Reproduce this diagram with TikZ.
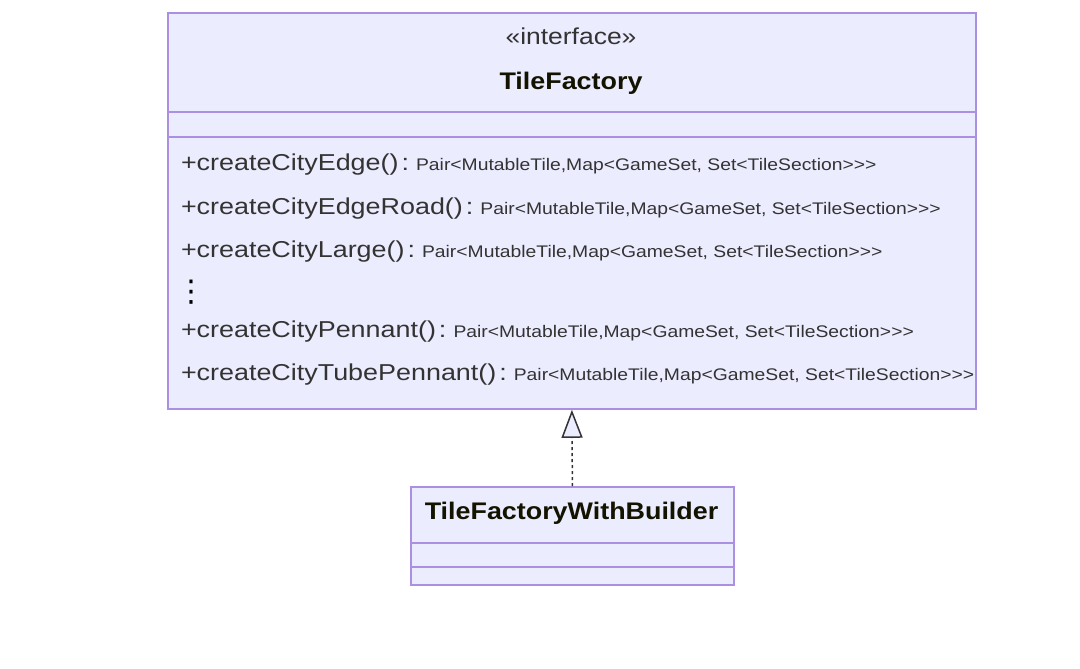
\documentclass[tikz,border=0pt]{standalone}
\usepackage{fontspec}
\setmainfont{Liberation Sans}
\newfontfamily\mfont[FakeStretch=1.17]{Liberation Sans}
\newfontfamily\rfont[FakeStretch=1.15]{Liberation Sans}
\newfontfamily\tfont[FakeStretch=1.12]{Liberation Sans}
\newfontfamily\symfont{DejaVu Sans}
\usetikzlibrary{arrows.meta}
\definecolor{cfill}{HTML}{ECECFF}
\definecolor{clinebase}{HTML}{9370DB}
\colorlet{cline}{clinebase!78!white}
\definecolor{ctext}{HTML}{333333}
\definecolor{ctitle}{HTML}{131300}
\newcommand{\rsep}{\kern3pt:\kern7pt}
\tikzset{
  classbox/.style={draw=cline, fill=cfill, line width=1.8pt, inner sep=0pt, anchor=north west},
  divider/.style={draw=cline, line width=1.8pt},
  txt/.style={inner sep=0pt, outer sep=0pt, anchor=base west, text=ctext},
  mname/.style={txt, font=\mfont\fontsize{23}{27}\selectfont},
  mret/.style={txt, font=\rfont\fontsize{16.8}{20}\selectfont},
  stereo/.style={inner sep=0pt, anchor=base, text=ctext, font=\rfont\fontsize{23}{27}\selectfont},
  ctitle/.style={inner sep=0pt, anchor=base, text=ctitle, font=\tfont\bfseries\fontsize{24}{28}\selectfont},
  realize/.style={draw=ctext, line width=1.5pt, dash pattern=on 3pt off 3pt,
    -{Triangle[fill=cfill, length=28pt, width=21pt, line width=1.5pt]}}
}
\begin{document}
\begin{tikzpicture}[x=1pt,y=-1pt]
\useasboundingbox (0,0) rectangle (1080,669);
% TileFactory box
\node[classbox, minimum width=808pt, minimum height=396pt] (tf) at (167,12) {};
\draw[divider] (tf.west |- 0,112) -- (tf.east |- 0,112);
\draw[divider] (tf.west |- 0,137) -- (tf.east |- 0,137);
\node[stereo] (st) at (571,45) {«interface»};
\node[ctitle] (tft) at (571,89) {TileFactory};
% methods
\node[mname] (m1) at (181,170) {+createCityEdge()\rsep};
\node[mret] (r1) at (m1.base east) {Pair<MutableTile,Map<GameSet, Set<TileSection>>>};
\node[mname] (m2) at (181,214) {+createCityEdgeRoad()\rsep};
\node[mret] (r2) at (m2.base east) {Pair<MutableTile,Map<GameSet, Set<TileSection>>>};
\node[mname] (m3) at (181,257) {+createCityLarge()\rsep};
\node[mret] (r3) at (m3.base east) {Pair<MutableTile,Map<GameSet, Set<TileSection>>>};
\node[txt, font=\symfont\fontsize{30}{34}\selectfont, text=black] (dots) at (176,301) {⋮};
\node[mname] (m4) at (181,337) {+createCityPennant()\rsep};
\node[mret] (r4) at (m4.base east) {Pair<MutableTile,Map<GameSet, Set<TileSection>>>};
\node[mname] (m5) at (181,380) {+createCityTubePennant()\rsep};
\node[mret] (r5) at (m5.base east) {Pair<MutableTile,Map<GameSet, Set<TileSection>>>};
% TileFactoryWithBuilder box
\node[classbox, minimum width=323pt, minimum height=98pt] (tfb) at (410,486) {};
\draw[divider] (tfb.west |- 0,543) -- (tfb.east |- 0,543);
\draw[divider] (tfb.west |- 0,567) -- (tfb.east |- 0,567);
\node[ctitle] (tfbt) at (571.5,519) {TileFactoryWithBuilder};
% realization
\draw[realize] (tfb.north) -- (tf.south);
\end{tikzpicture}
\end{document}
